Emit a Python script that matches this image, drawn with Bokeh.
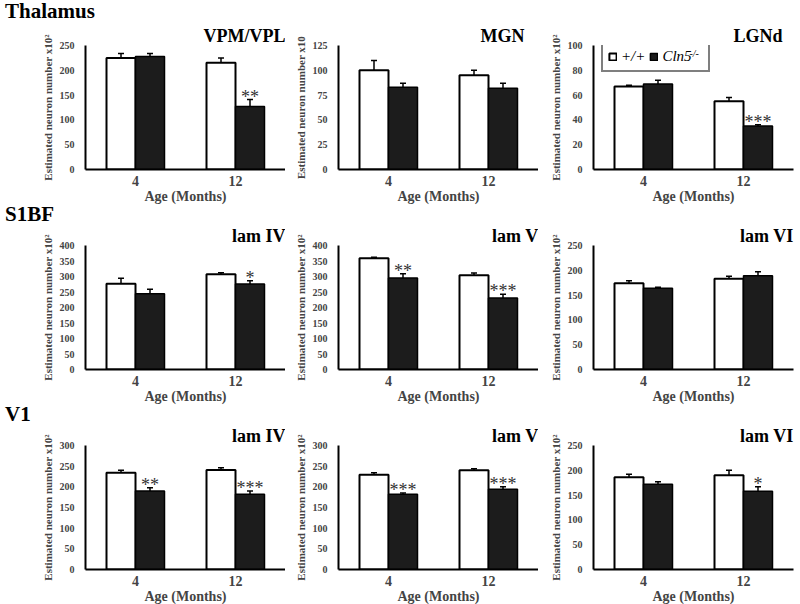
from bokeh.plotting import figure
from bokeh.layouts import column, row
from bokeh.models import (ColumnDataSource, Whisker, Label, Legend, LegendItem,
                          FixedTicker, Range1d, TeeHead, Title, Div)
from bokeh.core.properties import value
from bokeh.embed import file_html
from bokeh.resources import INLINE

# ---------------- data ----------------
ages = ["4", "12"]
regions = ["Thalamus", "S1BF", "V1"]
titles = [["VPM/VPL", "MGN", "LGNd"],
          ["lam IV", "lam V", "lam VI"],
          ["lam IV", "lam V", "lam VI"]]
ymax = [[250, 125, 100], [400, 400, 250], [300, 300, 250]]
ystep = [[50, 25, 20], [50, 50, 50], [50, 50, 50]]
ylabel_sq = "Estimated neuron number x10\u00b2"
ylabel_10 = "Estimated neuron number x10"
ylabels = [[ylabel_sq, ylabel_10, ylabel_sq],
           [ylabel_sq, ylabel_sq, ylabel_sq],
           [ylabel_sq, ylabel_sq, ylabel_sq]]
legend_labels = ["+/+", "Cln5"]
legend_sup = "-/-"

# wild type (+/+) means and SEM at 4 and 12 months
wt_mean = [[[225, 215], [100, 95], [67, 55]],
           [[277, 307], [359, 304], [174, 183]],
           [[234, 241], [229, 240], [186, 190]]]
wt_err = [[[9, 10], [10, 5], [1, 3]],
          [[17, 5], [3, 7], [5, 5]],
          [[6, 5], [5, 4], [6, 10]]]
# Cln5-/- means and SEM
ko_mean = [[[228, 127], [83, 82], [69, 35]],
           [[244, 276], [295, 231], [164, 189]],
           [[190, 182], [182, 194], [172, 158]]]
ko_err = [[[6, 14], [4, 5], [3, 1]],
          [[15, 10], [14, 12], [2, 8]],
          [[8, 8], [3, 6], [5, 9]]]
ko_sig = [[["", "**"], ["", ""], ["", "***"]],
          [["", "*"], ["**", "***"], ["", ""]],
          [["**", "***"], ["***", "***"], ["", "*"]]]

# ---------------- style ----------------
SERIF = "Liberation Serif"
group_pos = [1, 3]
off = 0.29
bw = 0.58
left_borders = [85, 53, 55]
right_borders = [0, 0, 7]
title_offsets = [[0, 14, 11], [0, 0, 0], [0, 0, 0]]
div_heights = [23, 17, 17]
div_line = [23, 17, 17]
FH = 124

blocks = []
for r in range(3):
    blocks.append(Div(text=regions[r], width=800, height=div_heights[r], margin=(0, 0, 0, 0),
                      styles={"font-family": SERIF, "font-weight": "bold",
                              "font-size": "21px", "line-height": "%dpx" % div_line[r],
                              "color": "black", "padding-left": "5px",
                              "white-space": "nowrap"}))
    figs = []
    for c in range(3):
        p = figure(frame_width=200, frame_height=FH,
                   min_border_left=left_borders[c], min_border_right=right_borders[c],
                   min_border_top=22, min_border_bottom=33,
                   x_range=Range1d(0, 4), y_range=Range1d(0, ymax[r][c]),
                   output_backend="svg", toolbar_location=None, tools="")
        p.outline_line_color = None
        p.xgrid.visible = False
        p.ygrid.visible = False
        p.background_fill_color = "white"
        p.border_fill_color = "white"

        p.title = Title(text=titles[r][c], align="right", offset=title_offsets[r][c],
                        standoff=0, text_font=SERIF, text_font_style="bold",
                        text_font_size="18px", text_color="black")

        wt_x = [g - off for g in group_pos]
        ko_x = [g + off for g in group_pos]
        wt_src = ColumnDataSource(dict(
            x=wt_x, top=wt_mean[r][c],
            upper=[m + e for m, e in zip(wt_mean[r][c], wt_err[r][c])]))
        ko_src = ColumnDataSource(dict(
            x=ko_x, top=ko_mean[r][c],
            upper=[m + e for m, e in zip(ko_mean[r][c], ko_err[r][c])],
            sig=ko_sig[r][c]))

        wt_r = p.vbar(x="x", top="top", bottom=0, width=bw, source=wt_src,
                      fill_color="white", line_color="black", line_width=2)
        ko_r = p.vbar(x="x", top="top", bottom=0, width=bw, source=ko_src,
                      fill_color="#1c1c1c", line_color="black", line_width=1.5)

        for src in (wt_src, ko_src):
            w = Whisker(source=src, base="x", lower="top", upper="upper",
                        line_color="black", line_width=1.5,
                        upper_head=TeeHead(size=6, line_width=1.5, line_color="black"),
                        lower_head=None, level="overlay")
            p.add_layout(w)

        p.text(x="x", y="upper", text="sig", source=ko_src,
               text_font=value(SERIF), text_font_size="18px",
               text_align="center", text_baseline="alphabetic",
               text_color="#333333", y_offset=-3)

        # axes
        p.xaxis.ticker = FixedTicker(ticks=group_pos)
        p.xaxis.major_label_overrides = {g: a for g, a in zip(group_pos, ages)}
        p.xaxis.major_tick_line_color = None
        p.xaxis.minor_tick_line_color = None
        p.xaxis.axis_line_width = 2
        p.xaxis.major_label_text_font = SERIF
        p.xaxis.major_label_text_font_style = "bold"
        p.xaxis.major_label_text_font_size = "14px"
        p.xaxis.major_label_standoff = 0
        p.xaxis.axis_label = "Age (Months)"
        p.xaxis.axis_label_text_font = SERIF
        p.xaxis.axis_label_text_font_style = "bold"
        p.xaxis.axis_label_text_font_size = "14px"
        p.xaxis.axis_label_standoff = 0

        p.yaxis.ticker = FixedTicker(ticks=list(range(0, ymax[r][c] + 1, ystep[r][c])))
        p.yaxis.major_tick_line_color = None
        p.yaxis.minor_tick_line_color = None
        p.yaxis.axis_line_width = 2
        p.yaxis.major_label_text_font = SERIF
        p.yaxis.major_label_text_font_style = "bold"
        p.yaxis.major_label_text_font_size = "10px"
        p.yaxis.major_label_standoff = 5
        p.yaxis.axis_label = ylabels[r][c]
        p.yaxis.axis_label_text_font = SERIF
        p.yaxis.axis_label_text_font_style = "bold"
        p.yaxis.axis_label_text_font_size = "11px"
        p.yaxis.axis_label_standoff = 3

        # legend
        if r == 0 and c == 2:
            leg = Legend(items=[LegendItem(label=legend_labels[0], renderers=[wt_r]),
                                LegendItem(label=legend_labels[1] + "   ", renderers=[ko_r])],
                         location=(8, FH - 27), orientation="horizontal",
                         border_line_color="black", border_line_width=2.5,
                         background_fill_alpha=0,
                         padding=5, spacing=4, margin=0,
                         glyph_width=9, glyph_height=9, label_standoff=4,
                         label_text_font=SERIF, label_text_font_size="15px",
                         label_text_font_style="italic", label_text_color="black")
            p.add_layout(leg)
            p.add_layout(Label(x=1.92, y=ymax[r][c] * (1 - 8 / FH), text=legend_sup,
                               text_align="left", text_baseline="middle",
                               text_font=SERIF, text_font_style="italic",
                               text_font_size="10px", text_color="black",
                               level="overlay"))
        figs.append(p)
    blocks.append(row(*figs, spacing=0))

layout = column(*blocks, spacing=0)
open("out.html", "w").write(file_html(layout, INLINE))
